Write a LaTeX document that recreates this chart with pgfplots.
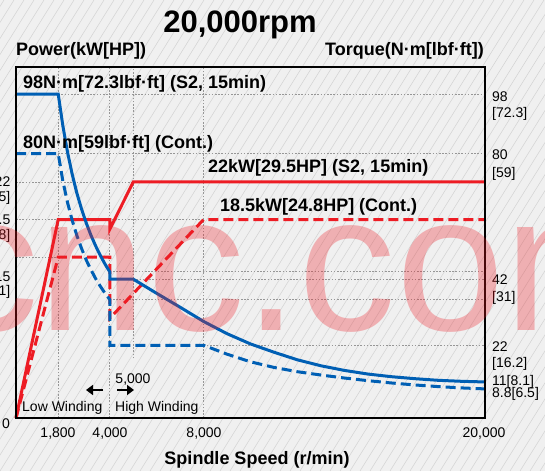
\documentclass[border=0pt]{standalone}
\usepackage{fontspec}
\setmainfont{Liberation Sans}
\usepackage{pgfplots}
\pgfplotsset{compat=1.18}
\usetikzlibrary{arrows.meta}
\definecolor{cblue}{RGB}{0,95,180}
\definecolor{cred}{RGB}{237,28,36}
\definecolor{bg}{RGB}{240,240,240}
\definecolor{hatch}{RGB}{210,210,210}
\definecolor{gridc}{RGB}{150,150,150}
\newcommand{\bl}{\fontsize{18}{20}\selectfont\bfseries}
\newcommand{\tl}{\fontsize{14}{16}\selectfont}

\pgfplotstableread{
n T
0 98
1800 98
2000 88.3
2200 80.3
2400 73.6
2600 67.9
2800 63.1
3000 58.9
3200 55.2
3400 52.0
3600 49.1
3800 46.5
4000 44.2
4000 42
5000 42
6000 37.7
7000 33.5
8000 29.2
9000 25.5
10000 22.4
11000 19.9
12000 17.6
13000 15.8
14000 14.4
15000 13.3
16000 12.5
17000 11.9
18000 11.4
19000 11.1
20000 10.9
}\torqueSii

\pgfplotstableread{
n T
0 80
1800 80
2000 71.6
2200 65.1
2400 59.7
2600 55.1
2800 51.2
3000 47.7
3200 44.8
3400 42.1
3600 39.8
3800 37.7
4000 35.8
4000 22
8000 22
9000 19.3
10000 17.0
11000 15.3
12000 14.0
13000 13.0
14000 12.1
15000 11.3
16000 10.6
17000 10.0
18000 9.5
19000 9.1
20000 8.8
}\torqueCont

\pgfplotstableread{
n P
0 0
1800 18.5
4000 18.5
4000 17.6
5000 22
20000 22
}\powerSii

\pgfplotstableread{
n P
0 0
1800 15
4000 15
4000 9.3
8000 18.5
20000 18.5
}\powerCont

\begin{document}
\begin{tikzpicture}[x=1pt,y=1pt]
\useasboundingbox (0,0) rectangle (545,471);
\clip (0,0) rectangle (545,471);
\fill[bg] (0,0) rectangle (545,471);
\foreach \i in {-300,-290,...,550} \draw[hatch, line width=0.5pt] (\i,0) -- ++(294,471);

\tikzset{gl/.style={gridc, line width=0.8pt, dash pattern=on 1.6pt off 1.6pt}}

% torque grid lines
\begin{axis}[at={(16pt,53pt)}, anchor=south west, scale only axis, width=469pt, height=351pt,
  xmin=0, xmax=20000, ymin=0, ymax=106.17, hide axis, clip=false]
  \draw[gl] (axis cs:1800,98) -- (axis cs:20000,98);
  \draw[gl] (axis cs:1800,80) -- (axis cs:20000,80);
  \draw[gl] (axis cs:4000,44.2) -- (axis cs:20000,44.2);
  \draw[gl] (axis cs:5000,42) -- (axis cs:20000,42);
  \draw[gl] (axis cs:4000,35.8) -- (axis cs:20000,35.8);
  \draw[gl] (axis cs:8000,22) -- (axis cs:20000,22);
  \draw[gl] (axis cs:1800,0) -- (axis cs:1800,106.17);
  \draw[gl] (axis cs:4000,0) -- (axis cs:4000,106.17);
  \draw[gl] (axis cs:5000,18) -- (axis cs:5000,106.17);
  \draw[gl] (axis cs:8000,0) -- (axis cs:8000,106.17);
\end{axis}

% power axis
\begin{axis}[at={(16pt,53pt)}, anchor=south west, scale only axis, width=469pt, height=351pt,
  xmin=0, xmax=20000, ymin=0, ymax=32.72, hide axis, clip=false]
  \draw[gl] (axis cs:0,22) -- (axis cs:5000,22);
  \draw[gl] (axis cs:0,18.5) -- (axis cs:8000,18.5);
  \draw[gl] (axis cs:0,15) -- (axis cs:1800,15);
  \addplot[cred, line width=3pt, line join=miter, dash pattern=on 10pt off 5pt] table[x=n,y=P] {\powerCont};
  \addplot[cred, line width=3pt, line join=miter] table[x=n,y=P] {\powerSii};
\end{axis}

% torque axis
\begin{axis}[at={(16pt,53pt)}, anchor=south west, scale only axis, width=469pt, height=351pt,
  xmin=0, xmax=20000, ymin=0, ymax=106.17, ticks=none, axis on top,
  axis line style={black, line width=1.3pt}]
  \addplot[cblue, line width=3pt, line join=miter, dash pattern=on 10pt off 5pt] table[x=n,y=T] {\torqueCont};
  \addplot[cblue, line width=3pt, line join=miter] table[x=n,y=T] {\torqueSii};
\end{axis}

% titles
\node[anchor=base, inner sep=0, font=\fontsize{31}{34}\selectfont\bfseries] at (240,438) {20,000rpm};
\node[anchor=base west, inner sep=0, font=\bl] at (16,415) {Power(kW[HP])};
\node[anchor=base east, inner sep=0, font=\bl] at (484,415) {Torque(N·m[lbf·ft])};
\node[anchor=base, inner sep=0, font=\bl] at (257,7) {Spindle Speed (r/min)};

% curve annotations
\node[anchor=base west, inner sep=0, font=\bl] at (23,382) {98N·m[72.3lbf·ft] (S2, 15min)};
\node[anchor=base west, inner sep=0, font=\bl] at (23,322) {80N·m[59lbf·ft] (Cont.)};
\node[anchor=base west, inner sep=0, font=\bl] at (208,298) {22kW[29.5HP] (S2, 15min)};
\node[anchor=base west, inner sep=0, font=\bl] at (220,259) {18.5kW[24.8HP] (Cont.)};

% right torque labels
\begin{scope}[every node/.style={anchor=base west, inner sep=0, font=\tl}]
\node at (492,369) {98};
\node at (492,353) {[72.3]};
\node at (492,311) {80};
\node at (492,293) {[59]};
\node at (492,186) {42};
\node at (492,169) {[31]};
\node at (492,120) {22};
\node at (492,104) {[16.2]};
\node at (492,86) {11[8.1]};
\node at (492,74) {8.8[6.5]};
\end{scope}

% left power labels
\begin{scope}[every node/.style={anchor=base east, inner sep=0, font=\tl}]
\node at (10.5,284) {22};
\node at (10.5,269) {[29.5]};
\node at (10.5,246) {18.5};
\node at (10.5,231) {[24.8]};
\node at (10.5,189) {15};
\node at (10.5,175) {[20.1]};
\end{scope}

% x labels
\begin{scope}[every node/.style={anchor=base, inner sep=0, font=\tl}]
\node at (6,43) {0};
\node at (58,34) {1,800};
\node at (110,34) {4,000};
\node at (204,34) {8,000};
\node at (484,34) {20,000};
\node at (133,88) {5,000};
\end{scope}
\node[anchor=base west, inner sep=0, font=\tl] at (22,60) {Low Winding};
\node[anchor=base west, inner sep=0, font=\tl] at (115,60) {High Winding};
\draw[line width=2.6pt, -{Triangle[length=7pt,width=10pt]}] (103,81) -- (86,81);
\draw[line width=2.6pt, -{Triangle[length=7pt,width=10pt]}] (117,81) -- (134,81);

% watermark
\node[anchor=base west, inner sep=0, text=cred, text opacity=0.3, font=\fontsize{195}{195}\selectfont] at (-59,140) {cnc.com};
\end{tikzpicture}
\end{document}
